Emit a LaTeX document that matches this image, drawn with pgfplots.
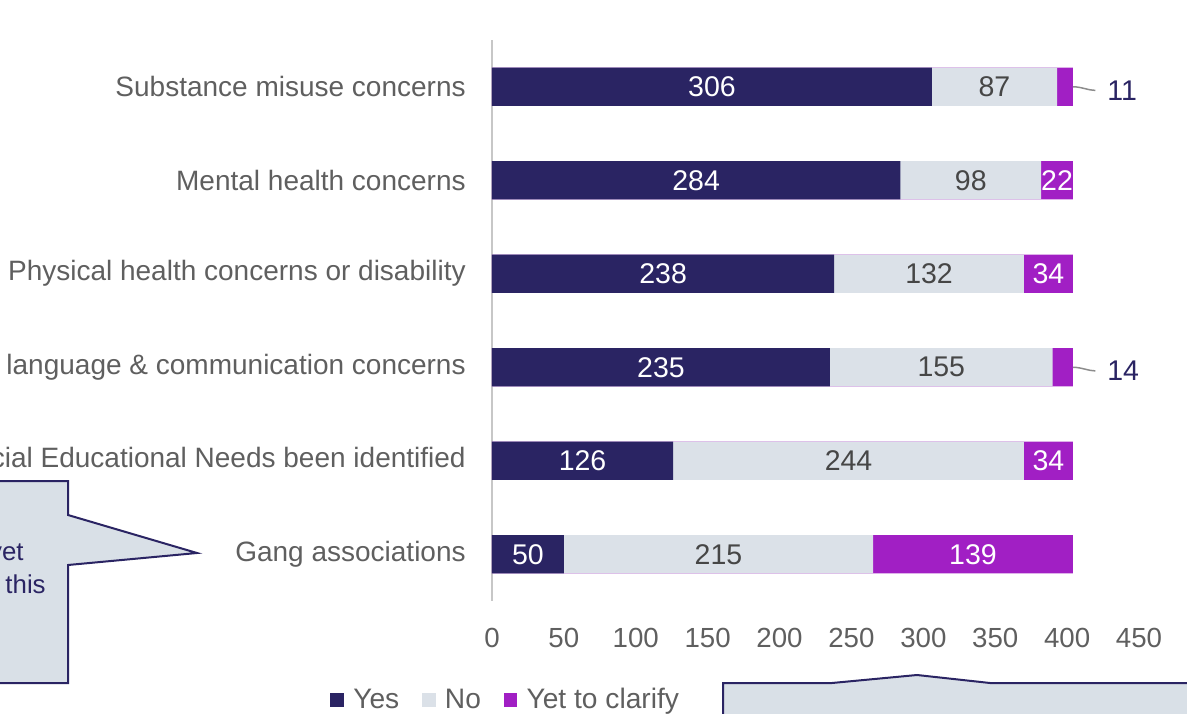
\documentclass[border=0pt]{standalone}
\usepackage{fontspec}
\setmainfont{Liberation Sans}
\usepackage{pgfplots}
\pgfplotsset{compat=1.18}
\usepackage{pgfplotstable}
\definecolor{navy}{RGB}{42,36,99}
\definecolor{lightno}{RGB}{219,225,232}
\definecolor{violet2}{RGB}{161,31,196}
\definecolor{txtgray}{RGB}{95,95,95}
\definecolor{darklbl}{RGB}{70,70,70}
\definecolor{boxfill}{RGB}{217,224,231}

\pgfplotstableread{
y yes no yet
5 306 87 11
4 284 98 22
3 238 132 34
2 235 155 14
1 126 244 34
0 50 215 139
}\data

\newcommand{\lbl}{\fontsize{16.6}{19}\selectfont}
\newcommand{\leg}{\fontsize{16.9}{19}\selectfont}
\newcommand{\cat}{\fontsize{16.8}{19}\selectfont}
\newcommand{\dat}{\fontsize{17.1}{19}\selectfont}

\begin{document}
\begin{tikzpicture}
\useasboundingbox (0,0) rectangle (712.2pt,428.4pt);
\clip (0,0) rectangle (712.2pt,428.4pt);
\begin{scope}[x=0.6pt,y=-0.6pt,shift={(0pt,428.4pt)}]
  \draw[navy, fill=boxfill, line width=1.2pt] (-10,481) -- (68,481) -- (68,515) -- (197,553) -- (68,565) -- (68,683) -- (-10,683) -- cycle;
  \node[anchor=base east, inner sep=0pt, text=navy, font=\fontsize{15.5}{18}\selectfont] at (24,560) {yet};
  \node[anchor=base east, inner sep=0pt, text=navy, font=\fontsize{15.5}{18}\selectfont] at (46,593) {this};
  \draw[navy, fill=boxfill, line width=1.2pt] (723,740) -- (723,683) -- (832,683) -- (917,675) -- (990,683) -- (1200,683) -- (1200,740);
\end{scope}
\begin{axis}[
  at={(295.2pt,67.8pt)}, anchor=south west,
  scale only axis, width=388.2pt, height=336.6pt,
  xmin=0, xmax=450, ymin=-0.5, ymax=5.5,
  axis x line*=bottom, axis y line*=left,
  x axis line style={draw=none},
  y axis line style={draw=black!22, line width=1pt, -},
  major tick length=0pt,
  xtick={0,50,...,450},
  ytick={0,1,2,3,4,5},
  yticklabels={Gang associations, Have Special Educational Needs been identified, Speech{,} language \& communication concerns, Physical health concerns or disability, Mental health concerns, Substance misuse concerns},
  /pgf/number format/assume math mode=true,
  xticklabel style={font=\lbl, text=txtgray, inner sep=0pt, yshift=-16.4pt},
  yticklabel style={font=\cat, text=txtgray, inner sep=0pt, xshift=-15.6pt},
  sqlegend/.style={legend image code/.code={\fill (0pt,-4.1pt) rectangle (8.2pt,4.1pt);}},
  reverse legend,
  legend columns=3,
  legend style={at={(-0.2504,-0.1765)}, anchor=west, draw=none, fill=none, inner sep=0pt, font=\leg, text=txtgray,
    /tikz/every odd column/.append style={column sep=3.6pt},
    /tikz/every even column/.append style={column sep=11.6pt}},
  clip=false,
]
\addplot[xbar, bar width=0.41, bar shift=0pt, fill=violet2, draw=none, sqlegend] table[x expr=\thisrow{yes}+\thisrow{no}+\thisrow{yet}, y=y]{\data};
\addlegendentry{Yet to clarify}
\addplot[xbar, bar width=0.41, bar shift=0pt, fill=lightno, draw=none, sqlegend] table[x expr=\thisrow{yes}+\thisrow{no}, y=y]{\data};
\addlegendentry{No}
\addplot[xbar, bar width=0.41, bar shift=0pt, fill=navy, draw=none, sqlegend] table[x=yes, y=y]{\data};
\addlegendentry{Yes}
% labels
\addplot[draw=none, forget plot, nodes near coords, point meta=explicit symbolic,
  every node near coord/.append style={anchor=center, inner sep=0pt, font=\dat, text=white}]
  table[x expr=\thisrow{yes}/2, y=y, meta=yes]{\data};
\addplot[draw=none, forget plot, nodes near coords, point meta=explicit symbolic,
  every node near coord/.append style={anchor=center, inner sep=0pt, font=\dat, text=darklbl}]
  table[x expr=\thisrow{yes}+\thisrow{no}/2, y=y, meta=no]{\data};
\addplot[draw=none, forget plot, nodes near coords, point meta=explicit symbolic,
  skip coords between index={0}{1}, skip coords between index={3}{4},
  every node near coord/.append style={anchor=center, inner sep=0pt, font=\dat, text=white}]
  table[x expr=\thisrow{yes}+\thisrow{no}+\thisrow{yet}/2, y=y, meta=yet]{\data};
\addplot[draw=none, forget plot, nodes near coords, point meta=explicit symbolic,
  skip coords between index={1}{3}, skip coords between index={4}{6},
  every node near coord/.append style={anchor=west, inner sep=0pt, font=\dat, text=navy, xshift=20.5pt, yshift=-2.2pt}]
  table[x expr=\thisrow{yes}+\thisrow{no}+\thisrow{yet}, y=y, meta=yet]{\data};
\draw[black!45, line width=0.9pt] (axis cs:404,5) .. controls +(5pt,0pt) and +(-4pt,0pt) .. ++(13.5pt,-2.2pt);
\draw[black!45, line width=0.9pt] (axis cs:404,2) .. controls +(5pt,0pt) and +(-4pt,0pt) .. ++(13.5pt,-2.2pt);
\end{axis}
\end{tikzpicture}
\end{document}
